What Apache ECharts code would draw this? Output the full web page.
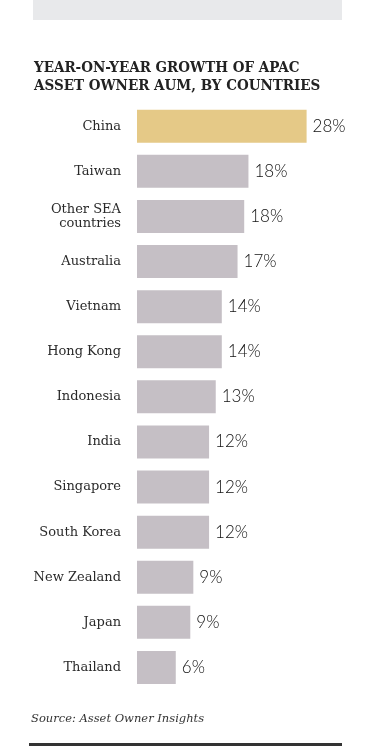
<!DOCTYPE html>
<html>
<head>
<meta charset="utf-8">
<script src="https://cdn.jsdelivr.net/npm/echarts@6/dist/echarts.min.js"></script>
<style>
html,body{margin:0;padding:0;background:#fff;}
#chart{width:365px;height:746px;}
</style>
</head>
<body>
<div id="chart"></div>
<script>
const categories = ['China','Taiwan','Other SEA\ncountries','Australia','Vietnam','Hong Kong','Indonesia','India','Singapore','South Korea','New Zealand','Japan','Thailand'];
const values = [28, 18.4, 17.7, 16.6, 14.0, 14.0, 13.0, 11.9, 11.9, 11.9, 9.3, 8.8, 6.4];
const highlight = 'China';

const chart = echarts.init(document.getElementById('chart'), null, {renderer:'canvas'});
const option = {
  animation: false,
  backgroundColor: '#ffffff',
  title: {
    text: 'YEAR-ON-YEAR GROWTH OF APAC\nASSET OWNER AUM, BY COUNTRIES',
    left: 29, top: 54,
    textStyle: {fontFamily: '"DejaVu Serif Condensed", "DejaVu Serif"', fontWeight: 'bold', fontSize: 15, lineHeight: 18, color: '#222'}
  },
  grid: {left: 137, right: 16, top: 103.7, bottom: 56, containLabel: false},
  xAxis: {
    type: 'value', min: 0, max: 35, show: false
  },
  yAxis: {
    type: 'category', data: categories, inverse: true,
    axisLine: {show: false}, axisTick: {show: false}, splitLine: {show: false},
    axisLabel: {margin: 16, fontFamily: 'DejaVu Serif', fontSize: 13, lineHeight: 14, color: '#2a2a2a', align: 'right'}
  },
  series: [{
    type: 'bar', barWidth: 33,
    data: values.map((v, i) => ({value: v, itemStyle: {color: categories[i] === highlight ? '#e5c987' : '#c5bfc5'}})),
    label: {
      show: true, position: 'right', distance: 6,
      formatter: p => Math.round(p.value) + '%',
      fontFamily: 'Lato', fontWeight: 300, fontSize: 17, color: '#111'
    }
  }],
  graphic: [
    {type: 'rect', shape: {x: 33, y: 0, width: 309, height: 20}, style: {fill: '#e8e9eb'}},
    {type: 'text', left: 31, top: 713, style: {text: 'Source: Asset Owner Insights', font: 'italic 11.5px "DejaVu Serif"', fill: '#333'}},
    {type: 'rect', shape: {x: 29, y: 743, width: 313, height: 3}, style: {fill: '#333'}}
  ]
};
chart.setOption(option);
</script>
</body>
</html>
